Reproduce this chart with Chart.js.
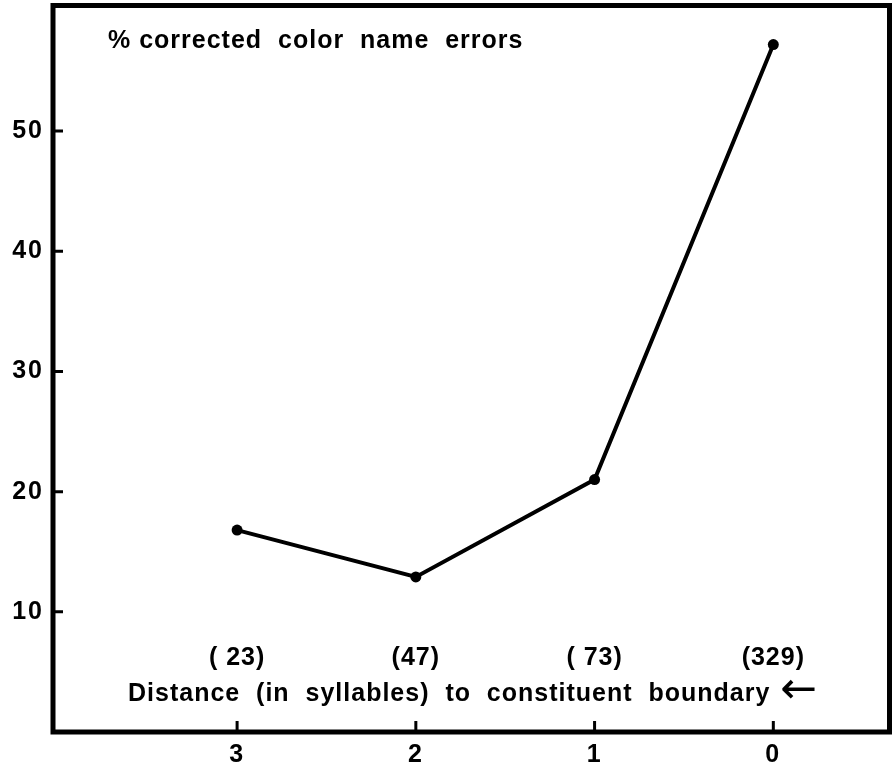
<!DOCTYPE html>
<html>
<head>
<meta charset="utf-8">
<script src="https://cdn.jsdelivr.net/npm/chart.js@4"></script>
<style>
    html, body { margin: 0; padding: 0; background: #fff; }
    #wrap { width: 895px; height: 770px; }
</style>
</head>
<body>
<div id="wrap"><canvas id="chart" width="895" height="770"></canvas></div>
<script>
// distance in syllables to the constituent boundary
const distances = [3, 2, 1, 0];
const correctedPct = [16.8, 12.9, 21.0, 57.2];
const counts = ['( 23)', '(47)', '( 73)', '(329)'];
const yTicks = [10, 20, 30, 40, 50];
const titleText = '% corrected  color  name  errors';
const axisText = 'Distance  (in  syllables)  to  constituent  boundary';
const arrowText = '\u2190';

const FONT = '"Liberation Sans", Arial, Helvetica, sans-serif';

// wider spacing for the scanned-looking lettering
const spacingPlugin = {
    id: 'spacing',
    beforeDraw(chart) { chart.ctx.letterSpacing = '2px'; },
    afterDraw(chart) { chart.ctx.letterSpacing = '0px'; }
};

// frame + inward tick marks + text inside the plot
const framePlugin = {
    id: 'frame',
    afterDraw(chart) {
        const ctx = chart.ctx;
        const area = chart.chartArea;
        const xs = chart.scales.x;
        const ys = chart.scales.y;
        ctx.save();
        ctx.letterSpacing = '0px';
        ctx.strokeStyle = '#000';
        ctx.lineWidth = 5;
        ctx.strokeRect(area.left, area.top, area.right - area.left, area.bottom - area.top);

        ctx.lineWidth = 3;
        ctx.beginPath();
        distances.forEach(d => {
            const px = xs.getPixelForValue(d);
            ctx.moveTo(px, area.bottom);
            ctx.lineTo(px, area.bottom - 11);
        });
        yTicks.forEach(v => {
            const py = ys.getPixelForValue(v);
            ctx.moveTo(area.left, py);
            ctx.lineTo(area.left + 10, py);
        });
        ctx.stroke();

        ctx.fillStyle = '#000';
        ctx.font = 'bold 25px ' + FONT;
        ctx.textBaseline = 'middle';
        ctx.letterSpacing = '1px';

        // sample sizes
        ctx.textAlign = 'center';
        distances.forEach((d, i) => {
            ctx.fillText(counts[i], xs.getPixelForValue(d), area.bottom - 74);
        });

        // axis caption sits inside the frame
        ctx.textAlign = 'left';
        const capX = area.left + 75;
        ctx.fillText(axisText, capX, area.bottom - 38);
        const capW = ctx.measureText(axisText).width;
        ctx.letterSpacing = '0px';
        ctx.font = '44px "DejaVu Sans", sans-serif';
        ctx.fillText(arrowText, capX + capW + 10, area.bottom - 40);

        // title
        ctx.font = 'bold 25px ' + FONT;
        ctx.letterSpacing = '1px';
        ctx.fillText(titleText, area.left + 55, area.top + 36);
        ctx.restore();
    }
};

new Chart(document.getElementById('chart'), {
    type: 'line',
    data: {
        datasets: [{
            data: distances.map((d, i) => ({ x: d, y: correctedPct[i] })),
            borderColor: '#000',
            backgroundColor: '#000',
            borderWidth: 4,
            pointRadius: 5.5,
            pointBackgroundColor: '#000',
            pointBorderWidth: 0,
            tension: 0
        }]
    },
    options: {
        responsive: false,
        animation: false,
        layout: { padding: { top: 4, right: 2, left: 0, bottom: 0 } },
        plugins: {
            legend: { display: false },
            tooltip: { enabled: false }
        },
        scales: {
            x: {
                type: 'linear',
                reverse: true,
                min: -0.65,
                max: 4.03,
                afterBuildTicks: scale => { scale.ticks = distances.map(v => ({ value: v })); },
                afterFit: scale => {
                    scale.height = 38;
                    scale.paddingLeft = 0;
                    scale.paddingRight = 0;
                },
                grid: { drawOnChartArea: false, drawTicks: false },
                border: { display: false },
                ticks: {
                    color: '#000',
                    padding: 8,
                    maxRotation: 0,
                    font: { family: FONT, size: 25, weight: 'bold' }
                }
            },
            y: {
                min: 0,
                max: 60.45,
                afterBuildTicks: scale => { scale.ticks = yTicks.map(v => ({ value: v })); },
                afterFit: scale => {
                    scale.width = 53;
                    scale.paddingTop = 0;
                    scale.paddingBottom = 0;
                },
                grid: { drawOnChartArea: false, drawTicks: false },
                border: { display: false },
                ticks: {
                    color: '#000',
                    padding: 9,
                    font: { family: FONT, size: 25, weight: 'bold' }
                }
            }
        }
    },
    plugins: [spacingPlugin, framePlugin]
});
</script>
</body>
</html>
